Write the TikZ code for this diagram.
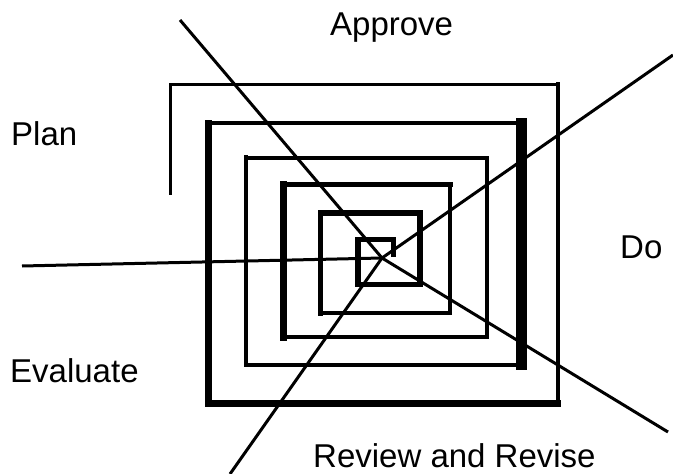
\documentclass[tikz,border=0pt]{standalone}
\usepackage{fontspec}
\setmainfont{Liberation Sans}
\usetikzlibrary{calc}
\tikzset{
  phaselabel/.style={
    inner sep=0pt, anchor=base west,
    font=\fontsize{33}{40}\selectfont
  },
  wallthin/.style={line width=3.8pt, line cap=rect},
  wallmid/.style={line width=5pt, line cap=rect},
  wallthick/.style={line width=6.5pt, line cap=rect},
  wallheavy/.style={line width=10.5pt, line cap=rect},
  spoke/.style={line width=3pt},
}

\begin{document}
\begin{tikzpicture}[x=1pt, y=-1pt]
  \useasboundingbox (0,0) rectangle (673,474);

  % ── Spiral, outer ring ─────────────────────────────────────────
  \draw[wallthin]  (170.5,193) -- (170.5,84.5);
  \draw[wallthin]  (170.5,84.5) -- (558,84.5);
  \draw[wallthin, line width=4.2pt] (558,84.5) -- (558,403.5);
  \draw[wallthick] (558,403.5) -- (208.5,403.5);

  % ── Second ring ────────────────────────────────────────────────
  \draw[wallthick] (208.5,403.5) -- (208.5,123);
  \draw[wallthin, line width=4.2pt] (208.5,123) -- (521.5,123);
  \draw[wallheavy] (521.5,123) -- (521.5,365);
  \draw[wallthin, line width=4.2pt] (521.5,365) -- (246,365);

  % ── Third ring ─────────────────────────────────────────────────
  \draw[wallmid, line width=4.5pt] (246,365) -- (246,157.7);
  \draw[wallthin]  (246,157.7) -- (486.7,157.7);
  \draw[wallthin]  (486.7,157.7) -- (486.7,337);
  \draw[wallthin, line width=4.2pt] (486.7,337) -- (283,337);

  % ── Fourth ring ────────────────────────────────────────────────
  \draw[wallthick, line width=7pt] (283,337) -- (283,184);
  \draw[wallmid]   (283,184) -- (450,184);
  \draw[wallthin]  (450,184) -- (450,313.3);
  \draw[wallthin]  (450,313.3) -- (320.5,313.3);

  % ── Fifth ring ─────────────────────────────────────────────────
  \draw[wallmid]   (320.5,313.3) -- (320.5,213);
  \draw[wallthick, line width=6pt] (320.5,213) -- (420,213);
  \draw[wallthick] (420,213) -- (420,284);
  \draw[wallmid]   (420,284) -- (358,284);

  % ── Innermost turn ─────────────────────────────────────────────
  \draw[wallthick, line width=6pt] (358,284) -- (358,239.5);
  \draw[wallthin, line width=4.2pt] (358,239.5) -- (393.5,239.5);
  \draw[wallthin, line width=4.2pt] (393.5,239.5) -- (393.5,255);

  % ── Spokes from the hub ────────────────────────────────────────
  \coordinate (hub) at (382,258);
  \coordinate (tlend) at (180,20);
  \coordinate (trend) at (673,55);
  \coordinate (brend) at (668,432);
  \coordinate (blend) at (230,474);
  \coordinate (lend) at (22,266);
  \draw[spoke] (hub) -- (tlend);
  \draw[spoke] (hub) -- (trend);
  \draw[spoke] (hub) -- (brend);
  \draw[spoke] (hub) -- (blend);
  \draw[spoke] (hub) -- (lend);

  % ── Phase labels ───────────────────────────────────────────────
  \node[phaselabel] (approve) at (330,35) {Approve};
  \node[phaselabel] (plan) at (11,145) {Plan};
  \node[phaselabel] (do) at (620,258) {Do};
  \node[phaselabel] (evaluate) at (10,382) {Evaluate};
  \node[phaselabel] (review) at (313,467) {Review and Revise};
\end{tikzpicture}
\end{document}
